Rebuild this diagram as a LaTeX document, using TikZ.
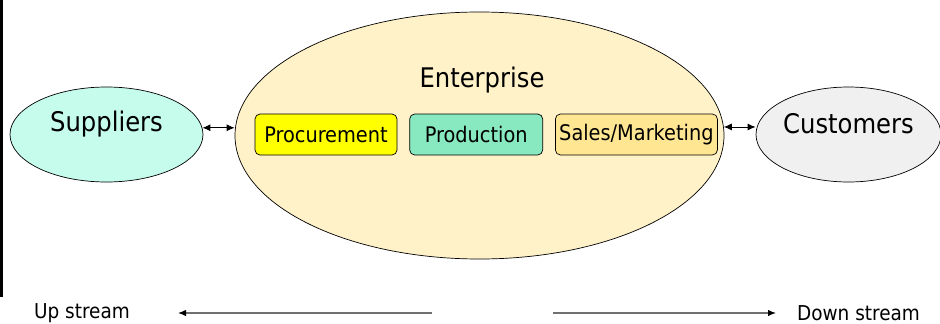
\documentclass[tikz,border=0pt]{standalone}
\usepackage{fontspec}
\setmainfont{DejaVu Sans Condensed}
\usepackage{tikz}
\usetikzlibrary{positioning,arrows.meta,shapes.geometric}
\definecolor{SupFill}{HTML}{C6FCEC}
\definecolor{EntFill}{HTML}{FFF2C9}
\definecolor{CusFill}{HTML}{F0F0F0}
\definecolor{ProcFill}{HTML}{FFFF00}
\definecolor{ProdFill}{HTML}{88E8C0}
\definecolor{SalesFill}{HTML}{FFE692}
\definecolor{StreamGrey}{HTML}{707070}

\begin{document}
\begin{tikzpicture}[
  x=1pt, y=-1pt,
  node distance = 12pt,
  blob/.style    = {draw, ellipse, line width=0.7pt, inner sep=0pt},
  bigtext/.style = {font=\fontsize{27}{30}\selectfont, inner sep=0pt},
  dept/.style    = {draw, rounded corners=5pt, line width=0.7pt,
                    minimum height=41pt, inner sep=0pt,
                    font=\fontsize{21.5}{24}\selectfont},
  link/.style    = {{Latex[length=8pt,width=7pt]}-{Latex[length=8pt,width=7pt]},
                    line width=0.9pt},
  stream/.style  = {-{Latex[length=8pt,width=6.5pt,color=black]}, line width=1.2pt,
                    color=StreamGrey},
  streamtext/.style = {font=\fontsize{20.5}{24}\selectfont, inner sep=0pt}
]
  \useasboundingbox (0,0) rectangle (940,324);
  \clip (0,0) rectangle (940,324);

  % slide edge
  \fill (0,0) rectangle (3,297);

  % outer parties
  \node[blob, fill=SupFill, minimum width=193pt, minimum height=95pt]
    (sup) at (106.5,134.5) {};
  \node[bigtext] (suptext) at ([yshift=10.5pt]sup.center) {Suppliers};

  \node[blob, fill=CusFill, minimum width=185pt, minimum height=95pt]
    (cus) at (848.5,134.5) {};
  \node[bigtext] (custext) at ([yshift=10.5pt]cus.center) {Customers};

  % enterprise
  \node[blob, fill=EntFill, minimum width=489pt, minimum height=247pt]
    (ent) at (479.5,135.5) {};
  \node[bigtext] (enttext) at (482,80) {Enterprise};

  % departments
  \node[dept, fill=ProcFill, minimum width=142pt] (proc) at (326,134.5) {Procurement};
  \node[dept, fill=ProdFill, minimum width=133pt, right=of proc] (prod) {Production};
  \node[dept, fill=SalesFill, minimum width=162pt, right=of prod] (sales) {Sales/Marketing};

  % links
  \draw[link] (sup.4.5) -- (sup.4.5 -| ent.west);
  \draw[link] (ent.2) -- (ent.2 -| cus.west);

  % stream direction
  \node[streamtext] (up) at (82,313) {Up stream};
  \node[streamtext] (down) at (858.5,313) {Down stream};
  \coordinate (upmid) at (432,313);
  \coordinate (uptip) at (178,313);
  \coordinate (downmid) at (553,313);
  \coordinate (downtip) at (776,313);
  \draw[stream] (upmid) -- (uptip);
  \draw[stream] (downmid) -- (downtip);

\end{tikzpicture}
\end{document}
